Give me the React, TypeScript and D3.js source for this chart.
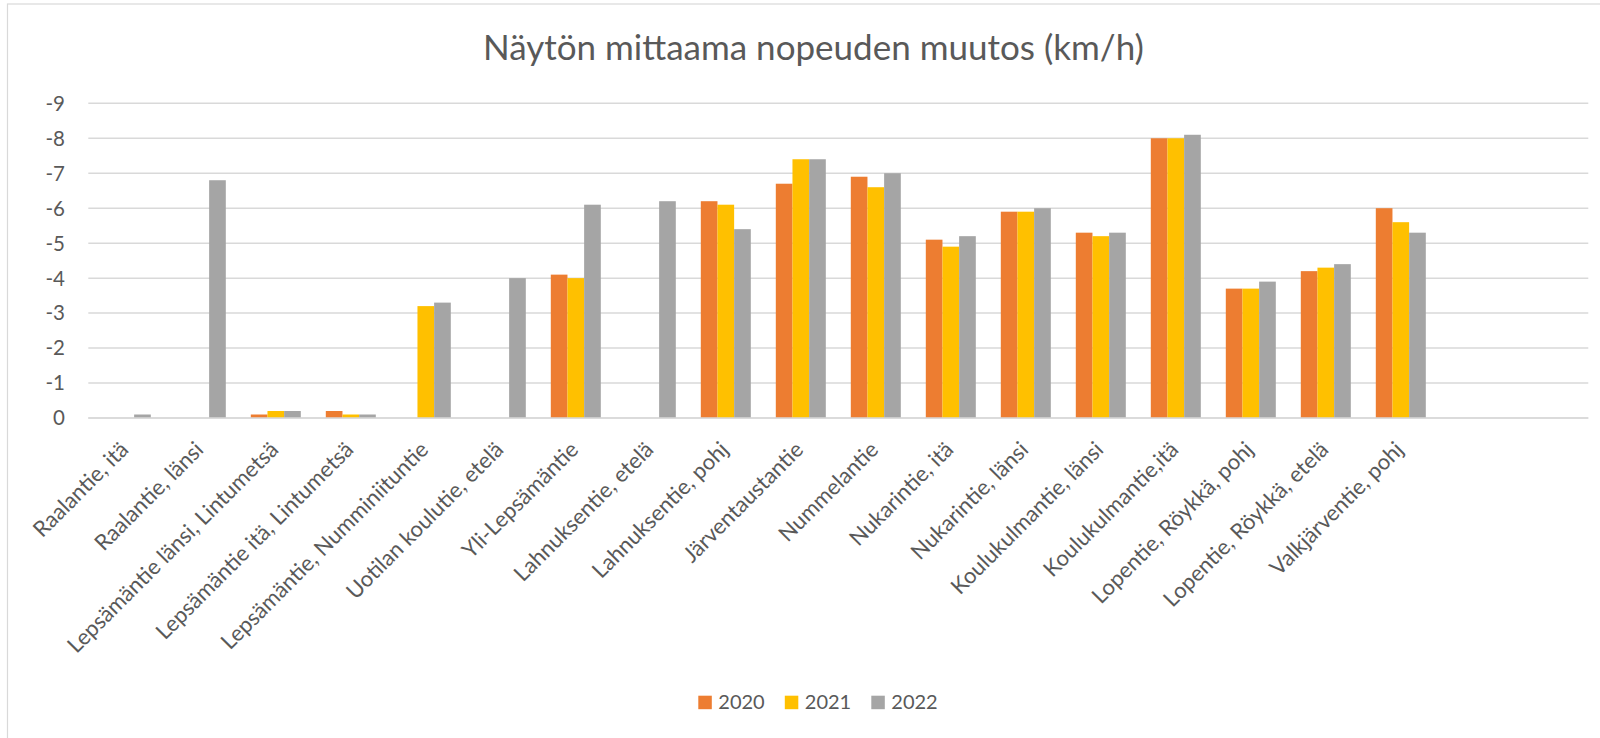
import React, { useEffect, useRef } from "react";
import * as d3 from "d3";

// Mittauspisteet (kaksi viimeistä paikkaa ovat tyhjiä, kuten Excelissä)
const categories = [
  "Raalantie, itä",
  "Raalantie, länsi",
  "Lepsämäntie länsi, Lintumetsä",
  "Lepsämäntie itä, Lintumetsä",
  "Lepsämäntie, Numminiituntie",
  "Uotilan koulutie, etelä",
  "Yli-Lepsämäntie",
  "Lahnuksentie, etelä",
  "Lahnuksentie, pohj",
  "Järventaustantie",
  "Nummelantie",
  "Nukarintie, itä",
  "Nukarintie, länsi",
  "Koulukulmantie, länsi",
  "Koulukulmantie,itä",
  "Lopentie, Röykkä, pohj",
  "Lopentie, Röykkä, etelä",
  "Valkjärventie, pohj",
  "",
  "",
];

const years = ["2020", "2021", "2022"];
const colors = ["#ED7D31", "#FFC000", "#A5A5A5"];

const values2020 = [null, null, -0.1, -0.2, null, null, -4.1, null, -6.2, -6.7, -6.9, -5.1, -5.9, -5.3, -8.0, -3.7, -4.2, -6.0, null, null];
const values2021 = [null, null, -0.2, -0.1, -3.2, null, -4.0, null, -6.1, -7.4, -6.6, -4.9, -5.9, -5.2, -8.0, -3.7, -4.3, -5.6, null, null];
const values2022 = [-0.1, -6.8, -0.2, -0.1, -3.3, -4.0, -6.1, -6.2, -5.4, -7.4, -7.0, -5.2, -6.0, -5.3, -8.1, -3.9, -4.4, -5.3, null, null];

const yTicks = [0, -1, -2, -3, -4, -5, -6, -7, -8, -9];

const Chart = () => {
  const svgRef = useRef(null);

  useEffect(() => {
    const width = 1600;
    const height = 738;
    const margin = { top: 103.3, left: 88.3, right: 11.7, bottom: 320 };
    const font = "Lato, 'Open Sans', sans-serif";
    const textColor = "#595959";

    const svg = d3.select(svgRef.current);
    svg.selectAll("*").remove();
    svg.attr("width", width).attr("height", height);

    // kehys
    svg.append("rect")
      .attr("x", 7.5).attr("y", 4)
      .attr("width", 1700).attr("height", 800)
      .attr("fill", "white")
      .attr("stroke", "#d9d9d9")
      .attr("stroke-width", 1.2);

    const series = [values2020, values2021, values2022];

    const x0 = d3.scaleBand()
      .domain(categories.map((_, i) => i))
      .range([margin.left, width - margin.right])
      .paddingInner(0)
      .paddingOuter(0);

    const bw = x0.bandwidth();
    const x1 = d3.scaleBand()
      .domain(years)
      .range([bw / 6, bw * 5 / 6]);

    const y = d3.scaleLinear()
      .domain([0, -9])
      .range([height - margin.bottom, margin.top]);

    // title
    svg.append("text")
      .attr("x", 813.5)
      .attr("y", 60)
      .attr("text-anchor", "middle")
      .attr("font-family", font)
      .attr("font-size", 35)
      .attr("fill", textColor)
      .text("Näytön mittaama nopeuden muutos (km/h)");

    // gridlines
    svg.append("g")
      .selectAll("line")
      .data(yTicks)
      .enter()
      .append("line")
      .attr("x1", margin.left)
      .attr("x2", width - margin.right)
      .attr("y1", (d) => y(d))
      .attr("y2", (d) => y(d))
      .attr("stroke", "#d9d9d9")
      .attr("stroke-width", 1.5);

    // y labels
    svg.append("g")
      .selectAll("text")
      .data(yTicks)
      .enter()
      .append("text")
      .attr("x", 65)
      .attr("y", (d) => y(d))
      .attr("dy", "0.36em")
      .attr("text-anchor", "end")
      .attr("font-family", font)
      .attr("font-size", 20.5)
      .attr("fill", textColor)
      .text((d) => d3.format("d")(d).replace("−", "-"));

    // bars
    series.forEach((vals, si) => {
      svg.append("g")
        .selectAll("rect")
        .data(vals.map((v, i) => ({ v, i })).filter((d) => d.v !== null))
        .enter()
        .append("rect")
        .attr("x", (d) => x0(d.i) + x1(years[si]))
        .attr("width", x1.bandwidth())
        .attr("y", (d) => y(d.v))
        .attr("height", (d) => y(0) - y(d.v))
        .attr("fill", colors[si]);
    });

    // zero line on top
    svg.append("line")
      .attr("x1", margin.left)
      .attr("x2", width - margin.right)
      .attr("y1", y(0))
      .attr("y2", y(0))
      .attr("stroke", "#d9d9d9")
      .attr("stroke-width", 1.5);

    // category labels
    svg.append("g")
      .selectAll("text")
      .data(categories.map((c, i) => ({ c, i })).filter((d) => d.c !== ""))
      .enter()
      .append("text")
      .attr("transform", (d) => `translate(${x0(d.i) + bw / 2 + 4}, 451) rotate(-45)`)
      .attr("text-anchor", "end")
      .attr("font-family", font)
      .attr("font-size", 22)
      .attr("fill", textColor)
      .text((d) => d.c);

    // legend
    const legend = svg.append("g")
      .selectAll("g")
      .data(years)
      .enter()
      .append("g")
      .attr("transform", (d, i) => `translate(${698.3 + i * 86.5}, 695.7)`);

    legend.append("rect")
      .attr("width", 13.5)
      .attr("height", 13.5)
      .attr("fill", (d, i) => colors[i]);

    legend.append("text")
      .attr("x", 20)
      .attr("y", 6.5)
      .attr("dy", "0.36em")
      .attr("font-family", font)
      .attr("font-size", 20)
      .attr("fill", textColor)
      .text((d) => d);
  }, []);

  return <svg ref={svgRef} style={{ position: "absolute", left: 0, top: 0, display: "block" }}></svg>;
};

export default function App() {
  return <Chart />;
}
